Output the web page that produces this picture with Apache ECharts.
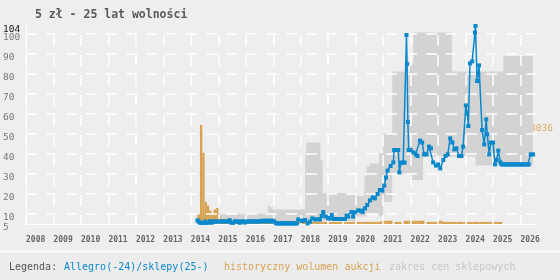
<!DOCTYPE html>
<html>
<head>
<meta charset="utf-8">
<script src="https://cdn.jsdelivr.net/npm/echarts@6/dist/echarts.min.js"></script>
<style>
  html, body { margin: 0; padding: 0; background: #eeeeee; }
  #chart { width: 560px; height: 280px; }
</style>
</head>
<body>
<div id="chart"></div>
<script>
// ceny: Allegro do 2024, sklepy od 2025  [rok, zł]
const prices = [
  [2014.24,6.8],[2014.29,6.2],[2014.34,5.6],[2014.40,5.6],[2014.46,5.5],[2014.52,6.3],[2014.58,5.6],
  [2014.64,5.7],[2014.70,6.4],[2014.76,5.6],[2014.82,6.3],[2014.88,6.2],[2014.94,6.3],[2015.00,6.2],
  [2015.06,6.3],[2015.12,6.3],[2015.18,6.2],[2015.24,6.4],[2015.30,6.3],[2015.36,6.2],[2015.42,6.9],
  [2015.48,5.6],[2015.54,5.6],[2015.60,6.3],[2015.66,6.3],[2015.72,6.3],[2015.78,5.6],[2015.84,6.3],
  [2015.90,6.3],[2015.96,5.7],[2016.02,6.2],[2016.08,6.3],[2016.14,6.3],[2016.20,6.2],[2016.26,6.3],
  [2016.32,6.3],[2016.38,6.2],[2016.44,6.3],[2016.50,6.3],[2016.56,6.3],[2016.62,6.7],[2016.68,6.3],
  [2016.74,6.7],[2016.80,6.2],[2016.86,6.7],[2016.92,6.2],[2016.98,6.7],[2017.04,6.2],[2017.10,5.4],
  [2017.14,5.3],[2017.19,5.3],[2017.24,5.3],[2017.29,5.3],[2017.34,5.3],[2017.39,5.3],[2017.44,5.3],
  [2017.49,5.3],[2017.54,5.3],[2017.59,5.3],[2017.64,5.3],[2017.69,5.3],[2017.74,5.3],[2017.79,5.3],
  [2017.86,5.3],[2017.91,7.3],[2018.04,6.5],[2018.10,6.8],[2018.16,7.0],[2018.25,5.3],[2018.34,6.2],
  [2018.42,7.8],[2018.52,7.3],[2018.61,7.3],[2018.70,7.3],[2018.76,9.0],[2018.82,11.0],[2018.91,8.7],
  [2019.00,7.8],[2019.06,7.8],[2019.13,9.5],[2019.21,7.5],[2019.31,7.5],[2019.41,7.5],[2019.51,7.5],
  [2019.61,7.5],[2019.67,9.2],[2019.73,8.7],[2019.85,11.0],[2019.91,8.7],[2019.97,10.8],[2020.09,11.8],
  [2020.18,11.7],[2020.25,11.0],[2020.34,12.8],[2020.42,14.5],[2020.52,16.8],[2020.62,18.3],[2020.70,17.8],
  [2020.80,20],[2020.88,22],[2020.97,21.7],[2021.04,24.2],[2021.10,28.2],[2021.16,31.7],[2021.27,34],
  [2021.37,35.8],[2021.40,42],[2021.47,42],[2021.55,42],[2021.59,30.8],[2021.65,35.7],[2021.73,35.7],
  [2021.78,35.7],[2021.85,99.5],[2021.87,85],[2021.90,56],[2021.93,42],[2021.97,42],[2022.00,42],
  [2022.10,40.8],[2022.18,39.8],[2022.25,39],[2022.34,46.7],[2022.42,45.7],[2022.49,39.8],[2022.58,39.8],
  [2022.67,43.7],[2022.74,42.8],[2022.82,35.8],[2022.92,34.2],[2023.00,34.8],[2023.08,32.8],[2023.19,37],
  [2023.27,39],[2023.35,39.8],[2023.44,47.8],[2023.52,45.8],[2023.59,42.3],[2023.67,42.8],[2023.76,39],
  [2023.85,39],[2023.91,43.7],[2024.01,64.3],[2024.06,60.3],[2024.10,54],[2024.16,85.3],[2024.24,86.3],
  [2024.34,100.7],[2024.36,104],[2024.42,76.5],[2024.46,80.3],[2024.49,84.3],[2024.60,52],[2024.68,44.8],
  [2024.75,57.3],[2024.79,49.8],[2024.86,39.8],[2024.92,45.7],[2025.00,45.7],[2025.07,34.8],[2025.13,37],
  [2025.19,41.7],[2025.27,35.8],[2025.31,34.8],[2025.36,34.8],[2025.41,34.8],[2025.46,34.8],[2025.51,34.8],
  [2025.56,34.8],[2025.61,34.8],[2025.66,34.8],[2025.71,34.8],[2025.76,34.8],[2025.81,34.8],[2025.86,34.8],
  [2025.91,34.8],[2025.96,34.8],[2026.01,34.8],[2026.06,34.8],[2026.11,34.8],[2026.16,34.8],[2026.21,34.8],
  [2026.26,34.8],[2026.30,34.8],[2026.37,39.8],[2026.46,39.8]
];

// wolumen aukcji, co miesiąc od kwietnia 2014
const volumeStart = 2014 + 3 / 12;
const volumes = [
  290, 3036, 2180, 680, 570, 410, 340, 445, 490,
  230, 150, 75, 75, 180, 75, 60, 60, 60, 60, 60, 60,
  60, 55, 60, 60, 55, 60, 60, 55, 60, 60, 55, 60,
  60, 45, 45, 45, 45, 45, 45, 45, 45, 45, 60, 60,
  65, 65, 65, 65, 65, 65, 65, 65, 65, 65, 65, 65,
  65, 65, 65, 65, 65, 65, 0, 65, 65, 65, 65, 65,
  65, 65, 65, 65, 65, 65, 65, 65, 65, 65, 65, 100,
  100, 100, 100, 100, 0, 65, 65, 65, 0, 100, 100, 100,
  100, 100, 100, 100, 100, 100, 0, 65, 65, 65, 65, 65,
  100, 100, 65, 65, 65, 65, 65, 65, 65, 65, 65, 65,
  65, 65, 65, 65, 65, 65, 65, 65, 65, 65, 65, 65,
  65, 65, 65, 65
];
const volumeMax = 3036;

// zakres cen sklepowych: [rok od, min, max]
const shopRange = [
  [2014.20, 5, 9.5], [2014.30, 5, 10.3], [2016.80, 5, 15.3], [2016.87, 5, 13.5],
  [2016.97, 5, 12.3], [2018.16, 5, 37], [2018.22, 5, 45.7], [2018.72, 5, 37],
  [2018.80, 6.5, 20.5], [2020.05, 8.7, 19], [2020.32, 8.7, 28.7], [2020.40, 10, 33.7],
  [2020.50, 10.3, 35.3], [2020.85, 8.7, 40.3], [2021.00, 16, 50.3], [2021.33, 30.3, 81.2],
  [2021.98, 27, 85.3], [2022.10, 27, 100.7], [2022.45, 38.7, 100.7], [2023.50, 38.7, 81.2],
  [2024.36, 34.2, 81.2], [2025.38, 34.2, 89], [2026.45, 34.2, 89]
];

const yearTicks = [2008, 2009, 2010, 2011, 2012, 2013, 2014, 2015, 2016, 2017,
  2018, 2019, 2020, 2021, 2022, 2023, 2024, 2025, 2026];
const priceTicks = [10, 20, 30, 40, 50, 60, 70, 80, 90, 100];
const priceLabels = [5, 10, 20, 30, 40, 50, 60, 70, 80, 90, 100];
const priceTop = 104;

const BLUE = '#0a88cc';
const ORANGE = '#d6a353';
const BAND = '#d3d3d3';
const BG = '#eeeeee';
const MONO = '"DejaVu Sans Mono", monospace';

const volumeData = volumes.map((v, i) => [volumeStart + i / 12 + 1 / 24, v]);
const bandLow = shopRange.map(r => [r[0], r[1]]);
const bandHigh = shopRange.map(r => [r[0], r[2]]);

const priceLabelStyle = {
  align: 'left', margin: 23, verticalAlign: 'top', lineHeight: 7,
  fontFamily: MONO, fontSize: 9.5
};

const chart = echarts.init(document.getElementById('chart'));
chart.setOption({
  animation: false,
  backgroundColor: BG,
  title: {
    text: '5 zł - 25 lat wolności',
    left: 30, top: 4,
    textStyle: { fontFamily: MONO, fontSize: 11.5, fontWeight: 'bold', color: '#5a5a5a' }
  },
  grid: { left: 26, right: 23, top: 26, bottom: 56 },
  xAxis: {
    type: 'value', min: 2008, max: 2026.6, z: 3,
    axisLine: { lineStyle: { color: '#ffffff', width: 1 } },
    axisTick: { show: true, length: 0, customValues: yearTicks },
    axisLabel: {
      customValues: yearTicks, align: 'left', margin: 12,
      fontFamily: MONO, fontSize: 8, fontWeight: 'bold', color: '#666',
      formatter: v => String(v)
    },
    splitLine: { show: true, lineStyle: { color: '#ffffff', width: 1.5, type: [11, 9], dashOffset: 11 } }
  },
  yAxis: [{
    type: 'value', min: 5, max: priceTop, z: 3,
    axisLine: { show: true, lineStyle: { color: '#ffffff', width: 1 } },
    axisTick: { show: true, length: 0, customValues: priceTicks },
    axisLabel: Object.assign({
      customValues: priceLabels, showMinLabel: true,
      color: v => v === 5 ? '#111' : '#777'
    }, priceLabelStyle),
    splitLine: { show: true, lineStyle: { color: '#ffffff', width: 1.5, type: [11, 9] } }
  }, {
    type: 'value', min: 0, max: volumeMax * 2, position: 'right',
    axisLine: { show: false }, axisTick: { show: false }, splitLine: { show: false },
    axisLabel: {
      customValues: [volumeMax], margin: -7, verticalAlign: 'top', lineHeight: 8,
      formatter: v => String(v),
      fontFamily: MONO, fontSize: 9.5, color: '#dca95c'
    }
  }, {
    // osobna oś tylko na etykietę maksimum
    type: 'value', min: 5, max: priceTop, position: 'left',
    axisLine: { show: false }, axisTick: { show: false }, splitLine: { show: false },
    axisLabel: Object.assign({ customValues: [priceTop], showMaxLabel: true, color: '#111' }, priceLabelStyle)
  }],
  series: [{
    name: 'zakres cen sklepowych', type: 'line', step: 'end',
    data: bandHigh, showSymbol: false, lineStyle: { width: 0 },
    areaStyle: { color: BAND, opacity: 1 }, silent: true, z: 1
  }, {
    name: 'zakres-min', type: 'line', step: 'end',
    data: bandLow, showSymbol: false, lineStyle: { width: 0 },
    areaStyle: { color: BG, opacity: 1 }, silent: true, z: 1
  }, {
    name: 'historyczny wolumen aukcji', type: 'bar', yAxisIndex: 1,
    data: volumeData, barWidth: 2.4, itemStyle: { color: ORANGE }, z: 2
  }, {
    name: 'Allegro(-24)/sklepy(25-)', type: 'line',
    data: prices, symbol: 'rect', symbolSize: 4, showSymbol: true,
    lineStyle: { color: BLUE, width: 1.5 }, itemStyle: { color: BLUE }, z: 5
  }],
  graphic: [
    { type: 'line', shape: { x1: 0, y1: 251.5, x2: 560, y2: 251.5 }, style: { stroke: '#f7f7f7', lineWidth: 2 } },
    { type: 'rect', shape: { x: 0, y: 253, width: 560, height: 27 }, style: { fill: '#ececec' }, z: -1 },
    { type: 'text', left: 9, top: 262, style: { text: 'Legenda:', font: '10px ' + MONO, fill: '#555' } },
    { type: 'text', left: 64, top: 262, style: { text: 'Allegro(-24)/sklepy(25-)', font: '10px ' + MONO, fill: BLUE } },
    { type: 'text', left: 224, top: 262, style: { text: 'historyczny wolumen aukcji', font: '10px ' + MONO, fill: ORANGE } },
    { type: 'text', left: 389, top: 262, style: { text: 'zakres cen sklepowych', font: '10px ' + MONO, fill: '#c8c8c8' } }
  ]
});
</script>
</body>
</html>
